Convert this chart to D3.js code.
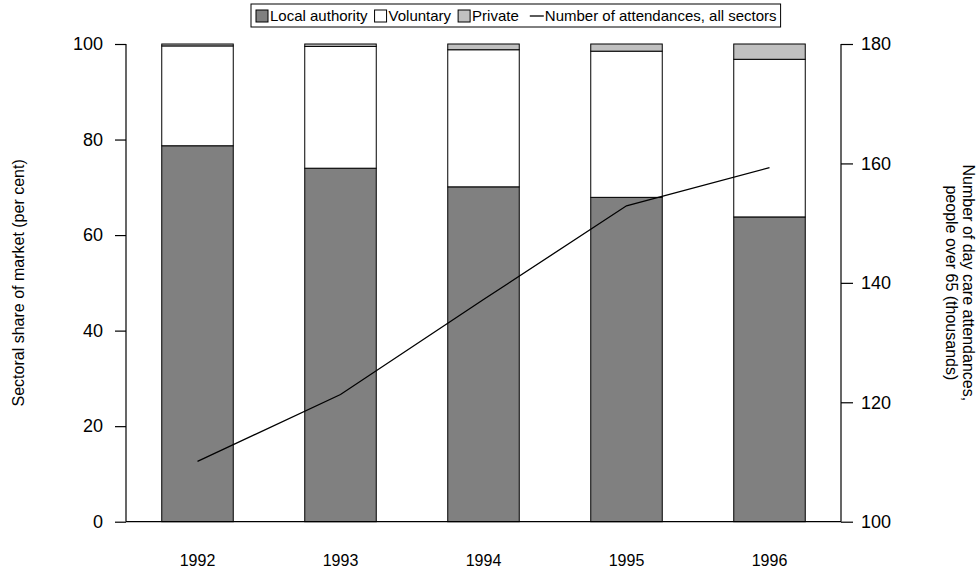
<!DOCTYPE html>
<html>
<head>
<meta charset="utf-8">
<script src="https://cdn.jsdelivr.net/npm/d3@7"></script>
<style>
  html, body { margin: 0; padding: 0; background: #fff; }
  svg { display: block; font-family: "Liberation Sans", Arial, sans-serif; }
</style>
</head>
<body>
<svg id="chart" width="978" height="571"></svg>
<script>
// ---- data ----
const years = ["1992", "1993", "1994", "1995", "1996"];
const localAuthority = [78.7, 74.0, 70.1, 67.9, 63.8];
const voluntary = [20.9, 25.5, 28.7, 30.6, 33.0];
const privateSector = [0.4, 0.5, 1.2, 1.5, 3.2];
const attendances = [110.1, 121.3, 137.2, 152.9, 159.3];
const leftTicks = [0, 20, 40, 60, 80, 100];
const rightTicks = [100, 120, 140, 160, 180];
const seriesNames = ["Local authority", "Voluntary", "Private"];
const lineName = "Number of attendances, all sectors";
const leftTitle = "Sectoral share of market (per cent)";
const rightTitle = ["Number of day care attendances,", "people over 65 (thousands)"];

const colors = { "Local authority": "#808080", "Voluntary": "#ffffff", "Private": "#c0c0c0" };

const svg = d3.select("#chart");
const plot = { left: 126, right: 841, top: 44, bottom: 521.7 };

const x = d3.scaleBand().domain(years).range([plot.left, plot.right]).paddingInner(0.5).paddingOuter(0.25);
const yL = d3.scaleLinear().domain([0, 100]).range([plot.bottom, plot.top]);
const yR = d3.scaleLinear().domain([100, 180]).range([plot.bottom, plot.top]);

const table = years.map((yr, i) => ({
  year: yr,
  "Local authority": localAuthority[i],
  "Voluntary": voluntary[i],
  "Private": privateSector[i]
}));
const stacked = d3.stack().keys(seriesNames)(table);

// bars
svg.append("g").selectAll("g").data(stacked).join("g")
  .attr("fill", d => colors[d.key])
  .selectAll("rect").data(d => d).join("rect")
  .attr("x", d => x(d.data.year))
  .attr("width", x.bandwidth())
  .attr("y", d => yL(d[1]))
  .attr("height", d => yL(d[0]) - yL(d[1]))
  .attr("stroke", "#000")
  .attr("stroke-width", 1);

// line
const line = d3.line().x((d, i) => x(years[i]) + x.bandwidth() / 2).y(d => yR(d));
svg.append("path").datum(attendances)
  .attr("d", line).attr("fill", "none").attr("stroke", "#000").attr("stroke-width", 1.3);

// left axis
const gL = svg.append("g").attr("transform", `translate(${plot.left},0)`)
  .call(d3.axisLeft(yL).tickValues(leftTicks).tickSize(11).tickPadding(12));
// right axis
const gR = svg.append("g").attr("transform", `translate(${plot.right},0)`)
  .call(d3.axisRight(yR).tickValues(rightTicks).tickSize(12).tickPadding(8));
[gL, gR].forEach(g => {
  g.select(".domain").attr("d", `M0,${plot.top}V${plot.bottom}`).attr("stroke", "#000").attr("stroke-width", 1.2);
  g.selectAll(".tick line").attr("stroke", "#000").attr("stroke-width", 1.2);
  g.selectAll(".tick text").attr("fill", "#000").style("font-size", "18px").style("font-family", "Liberation Sans, Arial, sans-serif");
});

// bottom axis
const gB = svg.append("g").attr("transform", `translate(0,${plot.bottom})`)
  .call(d3.axisBottom(x).tickSize(0).tickPadding(33));
gB.select(".domain").attr("d", `M${plot.left},0H${plot.right}`).attr("stroke", "#000").attr("stroke-width", 1.2);
gB.selectAll(".tick text").attr("fill", "#000").style("font-size", "16px").style("font-family", "Liberation Sans, Arial, sans-serif");

// axis titles
svg.append("text")
  .attr("transform", `translate(24,${(plot.top + plot.bottom) / 2}) rotate(-90)`)
  .attr("text-anchor", "middle").style("font-size", "16px").text(leftTitle);
const rt = svg.append("text")
  .attr("transform", `translate(963,${(plot.top + plot.bottom) / 2}) rotate(90)`)
  .attr("text-anchor", "middle").style("font-size", "16px");
rt.selectAll("tspan").data(rightTitle).join("tspan")
  .attr("x", 0).attr("dy", (d, i) => i === 0 ? 0 : 17).text(d => d);

// legend
const lg = svg.append("g");
const box = lg.append("rect").attr("fill", "#fff").attr("stroke", "#000").attr("stroke-width", 1);
let cx = 256;
const ly = 16;
const items = seriesNames.map(n => ({ name: n, type: "rect" })).concat([{ name: lineName, type: "line" }]);
items.forEach(it => {
  if (it.type === "rect") {
    lg.append("rect").attr("x", cx).attr("y", ly - 6).attr("width", 12).attr("height", 12)
      .attr("fill", colors[it.name]).attr("stroke", "#000").attr("stroke-width", 1);
    cx += 14;
  } else {
    cx += 4;
    lg.append("line").attr("x1", cx).attr("x2", cx + 14).attr("y1", ly).attr("y2", ly)
      .attr("stroke", "#000").attr("stroke-width", 1.3);
    cx += 15;
  }
  const t = lg.append("text").attr("x", cx).attr("y", ly + 5).style("font-size", "15px").text(it.name);
  cx += t.node().getComputedTextLength() + 7;
});
box.attr("x", 251).attr("y", 4).attr("width", cx - 251 - 3).attr("height", 23);
</script>
</body>
</html>
